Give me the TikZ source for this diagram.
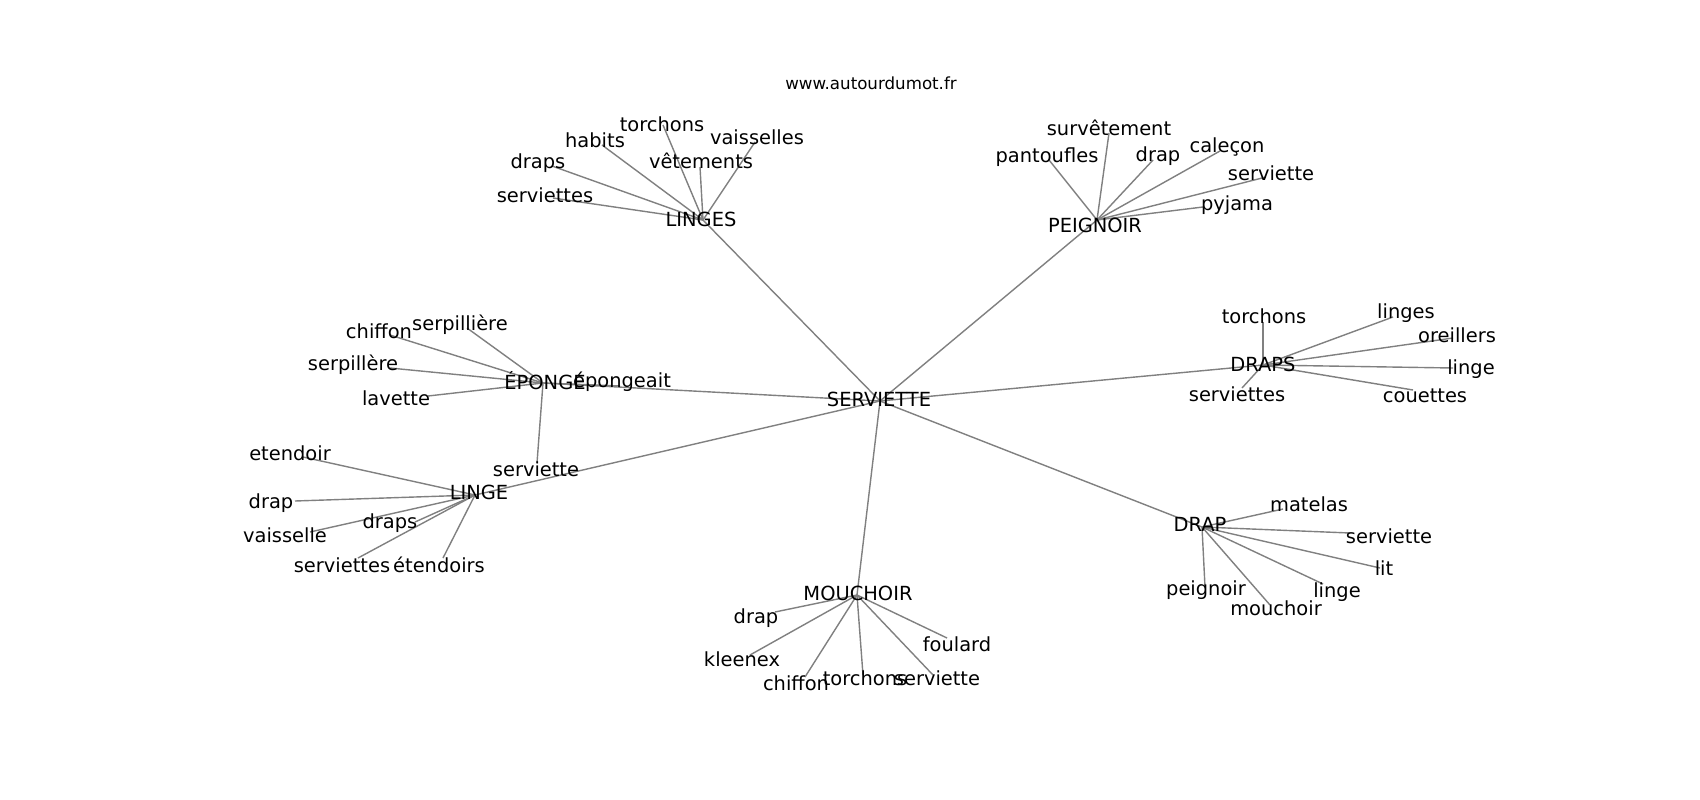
\documentclass[tikz,border=0pt]{standalone}
\usepackage{fontspec}
\setmainfont{DejaVu Sans}
\begin{document}
\begin{tikzpicture}[x=1pt,y=-1pt,
  edge/.style={draw=black!50,line width=1.4pt},
  lbl/.style={inner sep=0pt,font=\fontsize{19.44}{22}\selectfont,text height=0.77em,text depth=0.23em,anchor=center,yshift=-4.5pt},
  caps/.style={lbl,text height=0.96em,text depth=0.23em},
  ttl/.style={inner sep=0pt,font=\fontsize{16.67}{19}\selectfont,text height=0.77em,text depth=0.23em,yshift=-4pt}]
\path[fill=white,use as bounding box] (0,0) rectangle (1700,800);
% node positions
\coordinate (cS) at (880,401);
\coordinate (cLINGES) at (703,220);
\coordinate (cPEIG) at (1097,220);
\coordinate (cDRAPS) at (1263,365);
\coordinate (cDRAP) at (1202,527);
\coordinate (cMOU) at (857,595);
\coordinate (cLINGE) at (475,495);
\coordinate (cEPO) at (543,383);
% LINGES leaves
\coordinate (a1) at (663,125);
\coordinate (a2) at (602,145);
\coordinate (a3) at (552,166);
\coordinate (a4) at (553,198);
\coordinate (a5) at (700,167);
\coordinate (a6) at (755,142);
% PEIGNOIR leaves
\coordinate (b1) at (1109,133);
\coordinate (b2) at (1049,160);
\coordinate (b3) at (1153,160);
\coordinate (b4) at (1220,151);
\coordinate (b5) at (1266,177);
\coordinate (b6) at (1203,207);
% DRAPS leaves
\coordinate (d1) at (1263,322);
\coordinate (d2) at (1393,317);
\coordinate (d3) at (1453,338);
\coordinate (d4) at (1453,368);
\coordinate (d5) at (1413,390);
\coordinate (d6) at (1242,388);
% DRAP leaves
\coordinate (e1) at (1283,509);
\coordinate (e2) at (1350,533);
\coordinate (e3) at (1380,568);
\coordinate (e4) at (1323,584);
\coordinate (e5) at (1270,605);
\coordinate (e6) at (1205,587);
% MOUCHOIR leaves
\coordinate (m1) at (775,612);
\coordinate (m2) at (750,655);
\coordinate (m3) at (805,677);
\coordinate (m4) at (863,675);
\coordinate (m5) at (933,675);
\coordinate (m6) at (947,638);
% LINGE leaves
\coordinate (l1) at (303,457);
\coordinate (l2) at (295,501);
\coordinate (l3) at (310,532);
\coordinate (l4) at (415,522);
\coordinate (l5) at (358,558);
\coordinate (l6) at (443,558);
% EPONGE leaves
\coordinate (p1) at (390,335);
\coordinate (p2) at (467,328);
\coordinate (p3) at (390,368);
\coordinate (p4) at (428,396);
\coordinate (p5) at (620,386);
\coordinate (p6) at (537,463);
% edges
\foreach \h in {cLINGES,cPEIG,cDRAPS,cDRAP,cMOU,cLINGE,cEPO} \draw[edge] (cS) -- (\h);
\foreach \l in {a1,a2,a3,a4,a5,a6} \draw[edge] (cLINGES) -- (\l);
\foreach \l in {b1,b2,b3,b4,b5,b6} \draw[edge] (cPEIG) -- (\l);
\foreach \l in {d1,d2,d3,d4,d5,d6} \draw[edge] (cDRAPS) -- (\l);
\foreach \l in {e1,e2,e3,e4,e5,e6} \draw[edge] (cDRAP) -- (\l);
\foreach \l in {m1,m2,m3,m4,m5,m6} \draw[edge] (cMOU) -- (\l);
\foreach \l in {l1,l2,l3,l4,l5,l6} \draw[edge] (cLINGE) -- (\l);
\foreach \l in {p1,p2,p3,p4,p5,p6} \draw[edge] (cEPO) -- (\l);
% labels
\node[ttl] (title) at (871,83) {www.autourdumot.fr};
\node[caps] (tS) at (879,398) {SERVIETTE};
\node[caps] (tLINGES) at (701,218) {LINGES};
\node[caps] (tPEIG) at (1095,224) {PEIGNOIR};
\node[caps] (tDRAPS) at (1263,363) {DRAPS};
\node[caps] (tDRAP) at (1200,523) {DRAP};
\node[caps] (tMOU) at (858,592) {MOUCHOIR};
\node[caps] (tLINGE) at (479,491) {LINGE};
\node[caps] (tEPO) at (545,381) {ÉPONGE};
\node[lbl] (ta1) at (662,124) {torchons};
\node[lbl] (ta2) at (595,140) {habits};
\node[lbl] (ta3) at (538,161) {draps};
\node[lbl] (ta4) at (545,195) {serviettes};
\node[lbl] (ta5) at (701,161) {vêtements};
\node[lbl] (ta6) at (757,137) {vaisselles};
\node[lbl] (tb1) at (1109,128) {survêtement};
\node[lbl] (tb2) at (1047,155) {pantoufles};
\node[lbl] (tb3) at (1158,154) {drap};
\node[lbl] (tb4) at (1227,145) {caleçon};
\node[lbl] (tb5) at (1271,173) {serviette};
\node[lbl] (tb6) at (1237,203) {pyjama};
\node[lbl] (td1) at (1264,316) {torchons};
\node[lbl] (td2) at (1406,311) {linges};
\node[lbl] (td3) at (1457,335) {oreillers};
\node[lbl] (td4) at (1471,367) {linge};
\node[lbl] (td5) at (1425,395) {couettes};
\node[lbl] (td6) at (1237,394) {serviettes};
\node[lbl] (te1) at (1309,504) {matelas};
\node[lbl] (te2) at (1389,536) {serviette};
\node[lbl] (te3) at (1384,568) {lit};
\node[lbl] (te4) at (1337,590) {linge};
\node[lbl] (te5) at (1276,608) {mouchoir};
\node[lbl] (te6) at (1206,588) {peignoir};
\node[lbl] (tm1) at (756,616) {drap};
\node[lbl] (tm2) at (742,659) {kleenex};
\node[lbl] (tm3) at (796,683) {chiffon};
\node[lbl] (tm4) at (865,678) {torchons};
\node[lbl] (tm5) at (937,678) {serviette};
\node[lbl] (tm6) at (957,644) {foulard};
\node[lbl] (tl1) at (290,453) {etendoir};
\node[lbl] (tl2) at (271,501) {drap};
\node[lbl] (tl3) at (285,535) {vaisselle};
\node[lbl] (tl4) at (390,521) {draps};
\node[lbl] (tl5) at (342,565) {serviettes};
\node[lbl] (tl6) at (439,565) {étendoirs};
\node[lbl] (tp1) at (379,331) {chiffon};
\node[lbl] (tp2) at (460,323) {serpillière};
\node[lbl] (tp3) at (353,363) {serpillère};
\node[lbl] (tp4) at (396,398) {lavette};
\node[lbl] (tp5) at (622,380) {épongeait};
\node[lbl] (tp6) at (536,469) {serviette};
\end{tikzpicture}
\end{document}
